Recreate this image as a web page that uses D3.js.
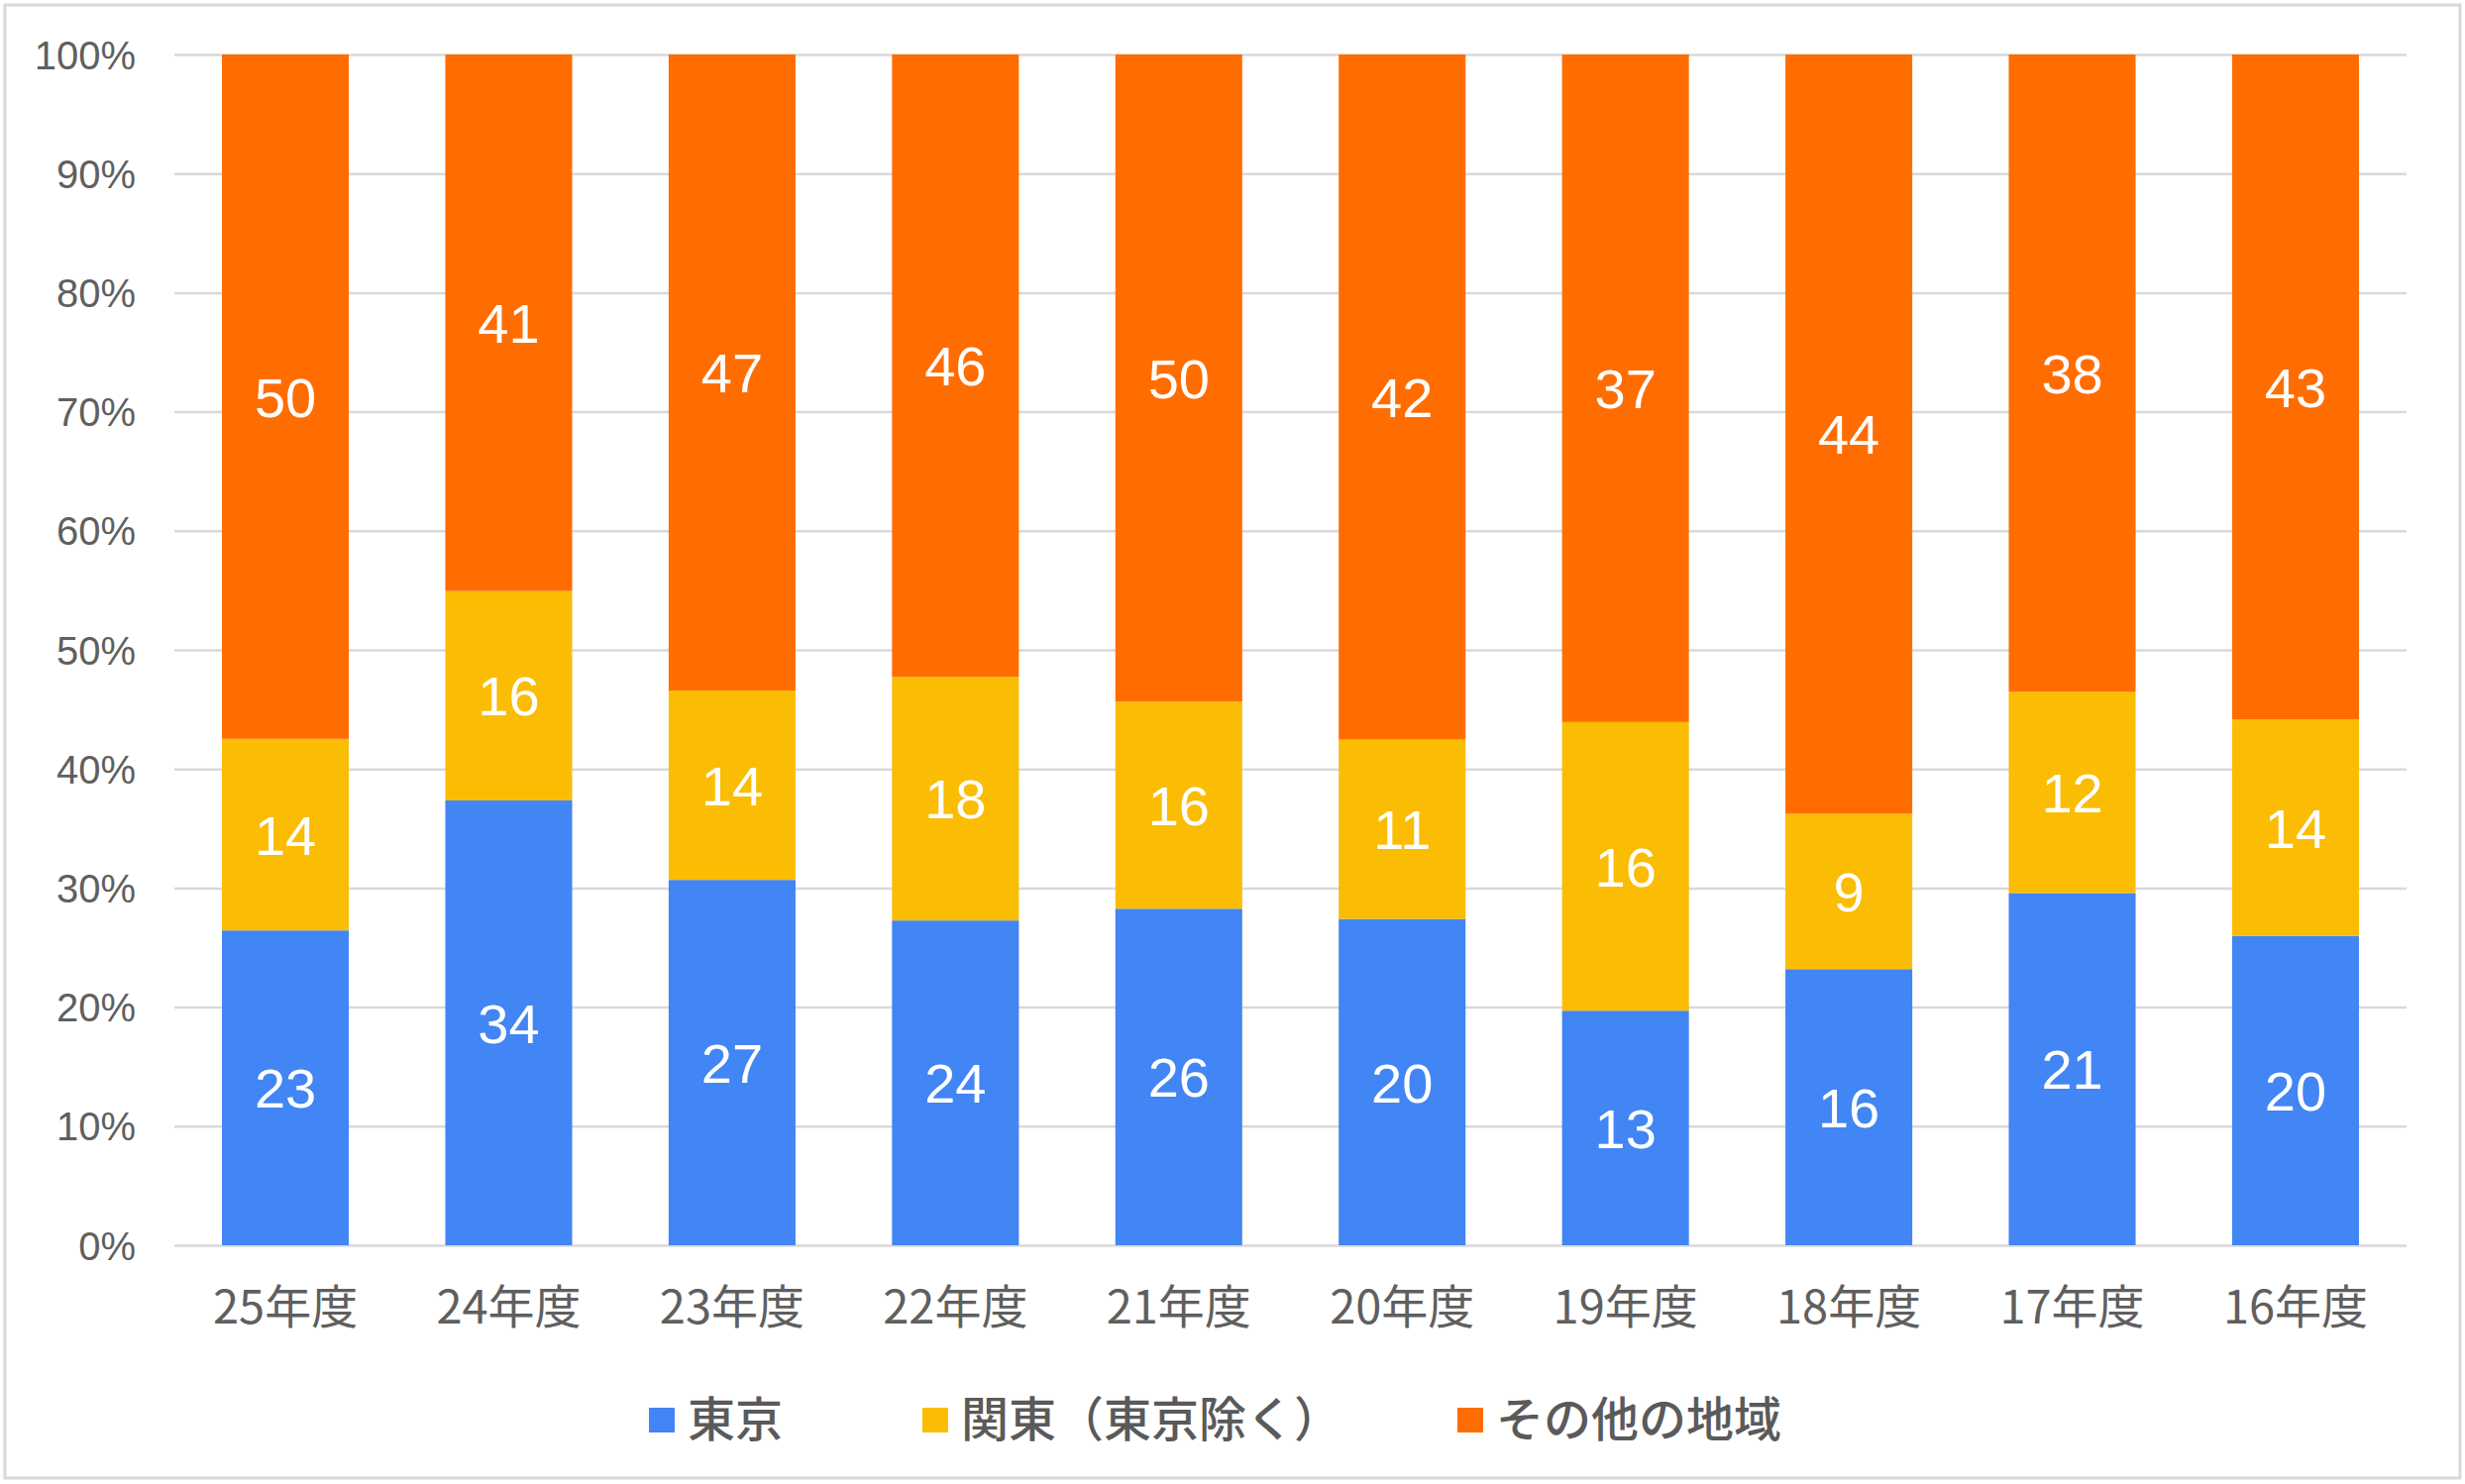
<!DOCTYPE html>
<html>
<head>
<meta charset="utf-8">
<script src="https://cdn.jsdelivr.net/npm/d3@7"></script>
<style>
  html, body { margin: 0; padding: 0; background: #fff; }
  svg { display: block; }
</style>
</head>
<body>
<svg id="chart" width="2488" height="1498"></svg>
<script>
// ---- data ----
const categories = ["25年度", "24年度", "23年度", "22年度", "21年度", "20年度", "19年度", "18年度", "17年度", "16年度"];
const seriesNames = ["東京", "関東（東京除く）", "その他の地域"];
const tokyo   = [23, 34, 27, 24, 26, 20, 13, 16, 21, 20];
const kanto   = [14, 16, 14, 18, 16, 11, 16,  9, 12, 14];
const others  = [50, 41, 47, 46, 50, 42, 37, 44, 38, 43];
const yTicks  = [0, 0.1, 0.2, 0.3, 0.4, 0.5, 0.6, 0.7, 0.8, 0.9, 1.0];
const colors  = ["#4285F4", "#FBBC04", "#FF6D01"];

// ---- layout ----
const W = 2488, H = 1498;
const plot = { left: 176, right: 2429, top: 55, bottom: 1257 };
const legendLayout = { y: 1433, starts: [655, 931, 1471] };
const svg = d3.select("#chart");

svg.append("rect").attr("x", 0).attr("y", 0).attr("width", W).attr("height", H).attr("fill", "#fff");
svg.append("rect").attr("x", 5).attr("y", 5).attr("width", 2478).attr("height", 1487)
  .attr("fill", "none").attr("stroke", "#d9d9d9").attr("stroke-width", 3);

const table = categories.map((c, i) => ({ cat: c, s0: tokyo[i], s1: kanto[i], s2: others[i] }));
const keys = ["s0", "s1", "s2"];
const stacked = d3.stack().keys(keys).offset(d3.stackOffsetExpand)(table);

const x = d3.scaleBand().domain(categories).range([plot.left, plot.right])
  .paddingInner(0.432).paddingOuter(0.213);
const y = d3.scaleLinear().domain([0, 1]).range([plot.bottom, plot.top]);

// y axis + gridlines
const yAxis = svg.append("g").attr("transform", `translate(${plot.left},0)`)
  .call(d3.axisLeft(y).tickValues(yTicks).tickFormat(d3.format(".0%"))
    .tickSize(-(plot.right - plot.left)).tickPadding(39));
yAxis.select(".domain").remove();
yAxis.selectAll(".tick line").attr("stroke", "#d9d9d9").attr("stroke-width", 2.5);
yAxis.selectAll(".tick text")
  .attr("fill", "#5f5f5f")
  .style("font-family", "'Liberation Sans', Arial, sans-serif")
  .style("font-size", "40px")
  .attr("dy", "0.35em");

// bars
const layers = svg.append("g").selectAll("g").data(stacked).join("g")
  .attr("fill", (d, i) => colors[i]);
layers.selectAll("rect").data(d => d).join("rect")
  .attr("x", d => x(d.data.cat))
  .attr("width", x.bandwidth())
  .attr("y", d => y(d[1]))
  .attr("height", d => y(d[0]) - y(d[1]));

// data labels
const labelsG = svg.append("g");
stacked.forEach((layer, li) => {
  labelsG.selectAll(null).data(layer).join("text")
    .attr("x", d => x(d.data.cat) + x.bandwidth() / 2)
    .attr("y", d => y((d[0] + d[1]) / 2))
    .attr("dy", "0.36em")
    .attr("text-anchor", "middle")
    .attr("fill", "#fff")
    .style("font-family", "'Liberation Sans', Arial, sans-serif")
    .style("font-size", "56px")
    .text(d => d.data[keys[li]]);
});

// x axis
const xAxis = svg.append("g").attr("transform", `translate(0,${plot.bottom})`)
  .call(d3.axisBottom(x).tickSize(0).tickPadding(0));
xAxis.select(".domain").remove();
xAxis.selectAll(".tick text")
  .attr("y", 79).attr("dy", 0)
  .attr("fill", "#5f5f5f")
  .style("font-family", "'Noto Sans CJK JP', sans-serif")
  .style("font-size", "47px");

// legend
const legend = svg.append("g");
const items = legend.selectAll("g").data(seriesNames).join("g")
  .attr("transform", (d, i) => `translate(${legendLayout.starts[i]},${legendLayout.y})`);
items.append("rect").attr("width", 26).attr("height", 25).attr("y", -12)
  .attr("fill", (d, i) => colors[i]);
items.append("text").attr("x", 39).attr("dy", "0.36em")
  .attr("fill", "#5a5a5a")
  .style("font-family", "'Noto Sans CJK JP', sans-serif")
  .style("font-weight", "500")
  .style("font-size", "48px")
  .text(d => d);
</script>
</body>
</html>
